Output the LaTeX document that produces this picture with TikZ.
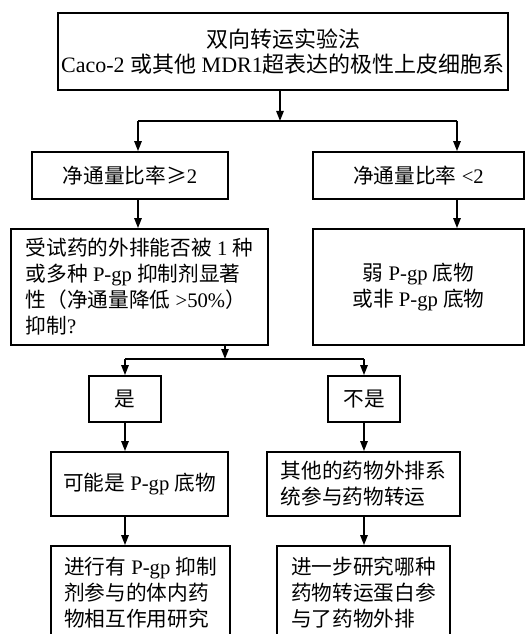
\documentclass[tikz,border=0pt]{standalone}
\usepackage{fontspec}
\setmainfont{Liberation Serif}
\newfontfamily\cjk{Noto Sans CJK SC}
\usetikzlibrary{arrows.meta}
\newcommand\zh[1]{{\cjk #1}}
\tikzset{
  box/.style={draw, line width=1.3pt, inner sep=0pt, font=\fontsize{15.5}{19.5}\selectfont},
  conn/.style={line width=1.3pt},
  arr/.style={line width=1.3pt, -{Triangle[length=7.5pt,width=5.5pt]}},
}
\begin{document}
\begin{tikzpicture}[x=0.75pt,y=-0.75pt]
\clip (0,0) rectangle (528,634);
\fill[white] (0,0) rectangle (528,634);
% boxes
\node[box, minimum width=337.5pt, minimum height=57.75pt, align=center,
      font=\fontsize{16.5}{19}\selectfont] (top) at (283,51.5)
  {\zh{双向转运实验法}\\Caco-2 \zh{或其他} MDR1\zh{超表达的极性上皮细胞系}};
\node[box, minimum width=147pt, minimum height=35.25pt] (L1) at (130,175.5)
  {\zh{净通量比率≥}2};
\node[box, minimum width=158.25pt, minimum height=35.25pt] (R1) at (418.5,175.5)
  {\zh{净通量比率} <2};
\node[box, minimum width=192.75pt, minimum height=87pt, align=left] (L2) at (139.5,287)
  {\zh{受试药的外排能否被} 1 \zh{种}\\\zh{或多种} P-gp \zh{抑制剂显著}\\\zh{性（净通量降低} >50\%\zh{）}\\\zh{抑制}?};
\node[box, minimum width=158.25pt, minimum height=87pt, align=center] (R2) at (418.5,287)
  {\zh{弱} P-gp \zh{底物}\\\zh{或非} P-gp \zh{底物}};
\node[box, minimum width=54pt, minimum height=34.5pt] (Y) at (125,399) {\zh{是}};
\node[box, minimum width=54pt, minimum height=34.5pt] (N) at (364,399) {\zh{不是}};
\node[box, minimum width=132.75pt, minimum height=48pt] (L3) at (139.5,484)
  {\zh{可能是} P-gp \zh{底物}};
\node[box, minimum width=144.75pt, minimum height=48pt, align=left] (R3) at (363.5,484)
  {\zh{其他的药物外排系}\\\zh{统参与药物转运}};
\node[box, minimum width=134.25pt, minimum height=70.5pt, align=left] (L4) at (140.5,593)
  {\zh{进行有} P-gp \zh{抑制}\\\zh{剂参与的体内药}\\\zh{物相互作用研究}};
\node[box, minimum width=129.75pt, minimum height=70.5pt, align=left] (R4) at (363.5,593)
  {\zh{进一步研究哪种}\\\zh{药物转运蛋白参}\\\zh{与了药物外排}};
% junctions
\coordinate (j1) at (280,121);
\coordinate (j1l) at (138,121);
\coordinate (j1r) at (457,121);
\coordinate (j2) at (225,359);
\coordinate (j2l) at (125,359);
\coordinate (j2r) at (364,359);
% connectors
\draw[arr] (top.south -| j1) -- (j1);
\draw[conn] (j1l) -- (j1r);
\draw[arr] (j1l) -- (L1.north -| j1l);
\draw[arr] (j1r) -- (R1.north -| j1r);
\draw[arr] (L1.south -| j1l) -- (L2.north -| j1l);
\draw[arr] (R1.south -| j1r) -- (R2.north -| j1r);
\draw[arr] (L2.south -| j2) -- (j2);
\draw[conn] (j2l) -- (j2r);
\draw[arr] (j2l) -- (Y.north);
\draw[arr] (j2r) -- (N.north);
\draw[arr] (Y.south) -- (L3.north -| Y.south);
\draw[arr] (N.south) -- (R3.north -| N.south);
\draw[arr] (L3.south -| Y.south) -- (L4.north -| Y.south);
\draw[arr] (R3.south -| N.south) -- (R4.north -| N.south);
\end{tikzpicture}
\end{document}
